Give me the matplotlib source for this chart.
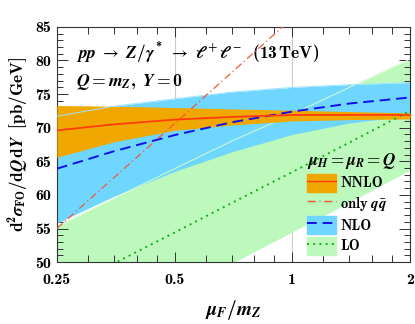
import numpy as np
import matplotlib
matplotlib.use("Agg")
import matplotlib.pyplot as plt
from matplotlib.patches import Patch
from matplotlib.lines import Line2D
from matplotlib.ticker import FixedLocator, NullFormatter

plt.rcParams['font.family'] = 'cmb10'
plt.rcParams['mathtext.fontset'] = 'custom'
plt.rcParams['mathtext.rm'] = 'cmb10'
plt.rcParams['mathtext.bf'] = 'cmb10'
plt.rcParams['mathtext.it'] = 'STIXGeneral:italic:bold'
plt.rcParams['mathtext.fallback'] = 'stix'

# scale mu_F / m_Z
mu = [0.25, 0.35, 0.5, 0.7, 1.0, 1.4, 2.0]

lo_c = [45.4, 49.8, 54.4, 58.8, 63.4, 67.8, 72.5]
lo_lo = [36.1, 40.6, 45.3, 49.8, 54.5, 58.9, 63.7]
lo_hi = [55.3, 59.5, 63.9, 68.0, 72.0, 76.0, 80.2]

nlo_c = [63.9, 66.5, 68.9, 70.8, 72.4, 73.6, 74.5]
nlo_lo = [55.8, 59.8, 63.5, 66.4, 69.0, 70.7, 71.8]
nlo_hi = [71.7, 73.2, 74.3, 75.3, 76.0, 76.4, 76.7]

nnlo_c = [69.6, 70.5, 71.2, 71.6, 71.9, 71.9, 71.9]
nnlo_lo = [65.6, 67.9, 69.6, 70.4, 71.0, 71.2, 71.3]
nnlo_hi = [73.3, 73.2, 73.0, 72.8, 72.6, 72.4, 72.2]

# only q qbar channel
mu_qq = [0.25, 0.5, 1.0]
qq = [55.0, 70.6, 86.3]

c_lo_band = '#bdf9bd'
c_nlo_band = '#6fd6ff'
c_nnlo_band = '#f0a800'
c_lo = '#17b017'
c_nlo = '#1010e8'
c_nnlo = '#ff3c0a'
c_qq = '#f05a38'

fig = plt.figure(figsize=(4.15, 3.24), dpi=100)
ax = fig.add_axes([0.137, 0.191, 0.851, 0.726])

ax.axvline(0.5, color='#cccccc', lw=0.8, zorder=0)
ax.axvline(1.0, color='#cccccc', lw=0.8, zorder=0)

ax.fill_between(mu, lo_lo, lo_hi, color=c_lo_band, lw=0, zorder=1)
ax.fill_between(mu, nlo_lo, nlo_hi, color=c_nlo_band, lw=0, zorder=2)
ax.fill_between(mu, nnlo_lo, nnlo_hi, color=c_nnlo_band, lw=0, zorder=3)
# faint band edges
ax.plot(mu, lo_hi, color='#d6fbc8', lw=0.7, zorder=2.5)
ax.plot(mu, nlo_hi, color='#9fe4ff', lw=0.7, zorder=3.5)

ax.plot(mu, lo_c, color=c_lo, lw=1.4, ls=(0, (1, 2.2)), zorder=5)
ax.plot(mu, nlo_c, color=c_nlo, lw=1.4, ls=(0, (5.5, 3)), zorder=5)
ax.plot(mu_qq, qq, color=c_qq, lw=0.9, ls=(0, (6, 2.5, 1, 2.5)), zorder=5)
ax.plot(mu, nnlo_c, color=c_nnlo, lw=1.3, zorder=6)

ax.set_xscale('log')
ax.set_xlim(0.25, 2)
ax.set_ylim(50, 85)
ax.xaxis.set_major_locator(FixedLocator([0.25, 0.5, 1, 2]))
ax.xaxis.set_minor_locator(FixedLocator([0.3, 0.35, 0.4, 0.45, 0.6, 0.7, 0.8, 0.9,
                                         1.2, 1.4, 1.6, 1.8]))
ax.xaxis.set_minor_formatter(NullFormatter())
ax.set_xticklabels(['0.25', '0.5', '1', '2'])
ax.set_yticks([50, 55, 60, 65, 70, 75, 80, 85])
ax.yaxis.set_minor_locator(FixedLocator(np.arange(50, 86, 1)))
ax.tick_params(which='both', direction='in', top=True, right=True,
               labelsize=11.5, width=0.7, color='#333333')
ax.tick_params(axis='x', which='major', length=7, pad=8)
ax.tick_params(axis='x', which='minor', length=5)
ax.tick_params(axis='y', which='major', length=8, pad=4)
ax.tick_params(axis='y', which='minor', length=4)
for s in ax.spines.values():
    s.set_linewidth(0.8)
    s.set_color('#333333')

ax.set_xlabel(r'$\mu_F/m_Z$', fontsize=14, labelpad=8)
ax.set_ylabel(r'$\mathrm{d}^2\sigma_{\mathrm{FO}}/\mathrm{d}Q\,\mathrm{d}Y\ \ [\mathrm{pb/GeV}]$',
              fontsize=12.3, labelpad=4)

ax.text(0.055, 0.94, r'$pp\ \to\ Z/\gamma^*\ \to\ \ell^+\ell^-\ \ (\mathrm{13\,TeV})$',
        transform=ax.transAxes, fontsize=12.5, va='top')
ax.text(0.055, 0.81, r'$Q = m_Z,\ Y = 0$',
        transform=ax.transAxes, fontsize=12.8, va='top')

handles = [
    (Patch(color=c_nnlo_band), Line2D([], [], color=c_nnlo, lw=1.0)),
    Line2D([], [], color=c_qq, lw=1.0, ls=(0, (6, 2.5, 1, 2.5))),
    (Patch(color=c_nlo_band), Line2D([], [], color=c_nlo, lw=1.4, ls=(0, (5, 3)))),
    (Patch(color=c_lo_band), Line2D([], [], color=c_lo, lw=1.4, ls=(0, (1, 2.2)))),
]
labels = ['NNLO', r'$\mathrm{only}\ q\bar{q}$', 'NLO', 'LO']
leg = ax.legend(handles, labels, loc='lower right', frameon=False, fontsize=10.5,
                title=r'$\mu_H = \mu_R = Q$', title_fontsize=12.3,
                handlelength=2.0, handleheight=1.5, handletextpad=0.3,
                labelspacing=0.2, borderaxespad=0.2,
                bbox_to_anchor=(0.985, -0.005))
leg._legend_box.align = 'left'

fig.savefig('out.png', dpi=100)
